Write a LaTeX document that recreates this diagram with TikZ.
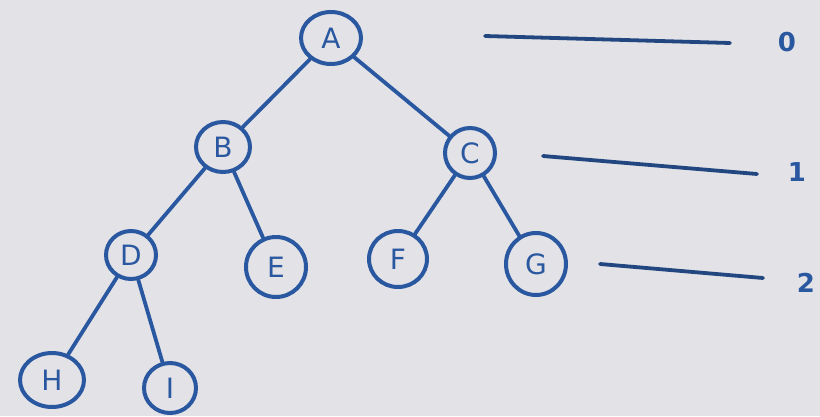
\documentclass[tikz,border=0pt]{standalone}
\usepackage{fontspec}
\setmainfont{DejaVu Sans}
\usetikzlibrary{shapes.geometric}
\definecolor{board}{RGB}{227,226,230}
\definecolor{ink}{RGB}{42,88,160}
\tikzset{
  treenode/.style={ellipse, draw=ink, line width=4pt, inner sep=0pt,
    text=ink, font=\fontsize{28}{30}\selectfont},
  edge/.style={draw=ink, line width=3.8pt, line cap=round},
  levelline/.style={draw=ink!80!black, line width=3.8pt, line cap=round},
  levellabel/.style={text=ink, font=\bfseries\fontsize{26}{28}\selectfont, inner sep=0pt}
}
\begin{document}
\begin{tikzpicture}[x=1pt,y=-1pt]
\fill[board] (0,0) rectangle (820,416);
\useasboundingbox (0,0) rectangle (820,416);
\node[treenode, minimum width=60pt, minimum height=52pt] (A) at (331,38) {A};
\node[treenode, minimum width=54pt, minimum height=50pt] (B) at (223,147) {B};
\node[treenode, minimum width=50pt, minimum height=50pt] (C) at (470,153) {C};
\node[treenode, minimum width=50pt, minimum height=48pt] (D) at (131,255) {D};
\node[treenode, minimum width=60pt, minimum height=60pt] (E) at (276,267) {E};
\node[treenode, minimum width=58pt, minimum height=56pt] (F) at (398,259) {F};
\node[treenode, minimum width=60pt, minimum height=62pt] (G) at (536,264) {G};
\node[treenode, minimum width=64pt, minimum height=54pt] (H) at (52,380) {H};
\node[treenode, minimum width=52pt, minimum height=50pt] (I) at (170,388) {I};
\draw[edge] (A) -- (B);
\draw[edge] (A) -- (C);
\draw[edge] (B) -- (D);
\draw[edge] (B) -- (E);
\draw[edge] (C) -- (F);
\draw[edge] (C) -- (G);
\draw[edge] (D) -- (H);
\draw[edge] (D) -- (I);
\coordinate (l0a) at (485,36);
\coordinate (l0b) at (730,43);
\coordinate (l1a) at (543,156);
\coordinate (l1b) at (757,174);
\coordinate (l2a) at (600,264);
\coordinate (l2b) at (763,278);
\draw[levelline] (l0a) -- (l0b);
\draw[levelline] (l1a) -- (l1b);
\draw[levelline] (l2a) -- (l2b);
\node[levellabel] (n0) at (787,42) {0};
\node[levellabel] (n1) at (797,172) {1};
\node[levellabel] (n2) at (806,283) {2};
\end{tikzpicture}
\end{document}
